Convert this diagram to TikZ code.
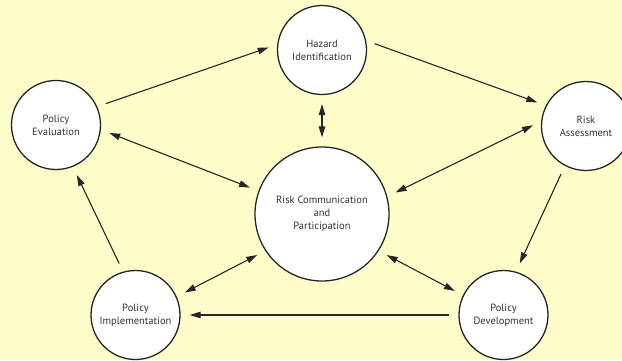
\documentclass[tikz,border=0pt]{standalone}
\usepackage{fontspec}
\setsansfont{PT Sans}
\usetikzlibrary{arrows.meta}

\begin{document}
\begin{tikzpicture}[x=1pt,y=1pt,
		stage/.style={circle, draw=black!85, line width=1.3pt, fill=white, minimum size=89pt, inner sep=0pt, align=center, text=black!80, font=\sffamily\fontsize{10.5}{13}\selectfont},
		flow/.style={-{Triangle[length=11pt,width=6.5pt]}, line width=1.1pt, black!85, shorten >=9pt, shorten <=9pt},
		both/.style={flow, {Triangle[length=11pt,width=6.5pt]}-{Triangle[length=11pt,width=6.5pt]}}]

		\definecolor{paper}{RGB}{255,253,202}

		\fill[paper] (0,0) rectangle (622,360);
		\clip (0,0) rectangle (622,360);

		%\draw[step=20pt,gray,very thin] (0,0) grid (622,360);

		\node[stage] (hazard) at (322,310) {Hazard\\Identification};
		\node[stage] (risk) at (586,234) {Risk\\Assessment};
		\node[stage] (evaluation) at (56,235) {Policy\\Evaluation};
		\node[stage, minimum size=134pt] (comm) at (322,146) {Risk Communication\\and\\Participation};
		\node[stage] (implementation) at (135.5,45) {Policy\\Implementation};
		\node[stage] (development) at (503.5,45) {Policy\\Development};

		% the cycle
		\draw[flow] (evaluation.24) -- (hazard.173);
		\draw[flow] (hazard.12) -- (risk.153);
		\draw[flow] (risk.242) -- (development.74);
		\draw[flow] (development.180) -- (implementation.0);
		\draw[flow] (implementation.106) -- (evaluation.292);

		% to and from the centre
		\draw[both] (hazard.270) -- (comm.90);
		\draw[both] (evaluation.354) -- (comm.160);
		\draw[both] (risk.174) -- (comm.15);
		\draw[both] (implementation.24) -- (comm.213);
		\draw[both] (development.154) -- (comm.327);

	\end{tikzpicture}
\end{document}
